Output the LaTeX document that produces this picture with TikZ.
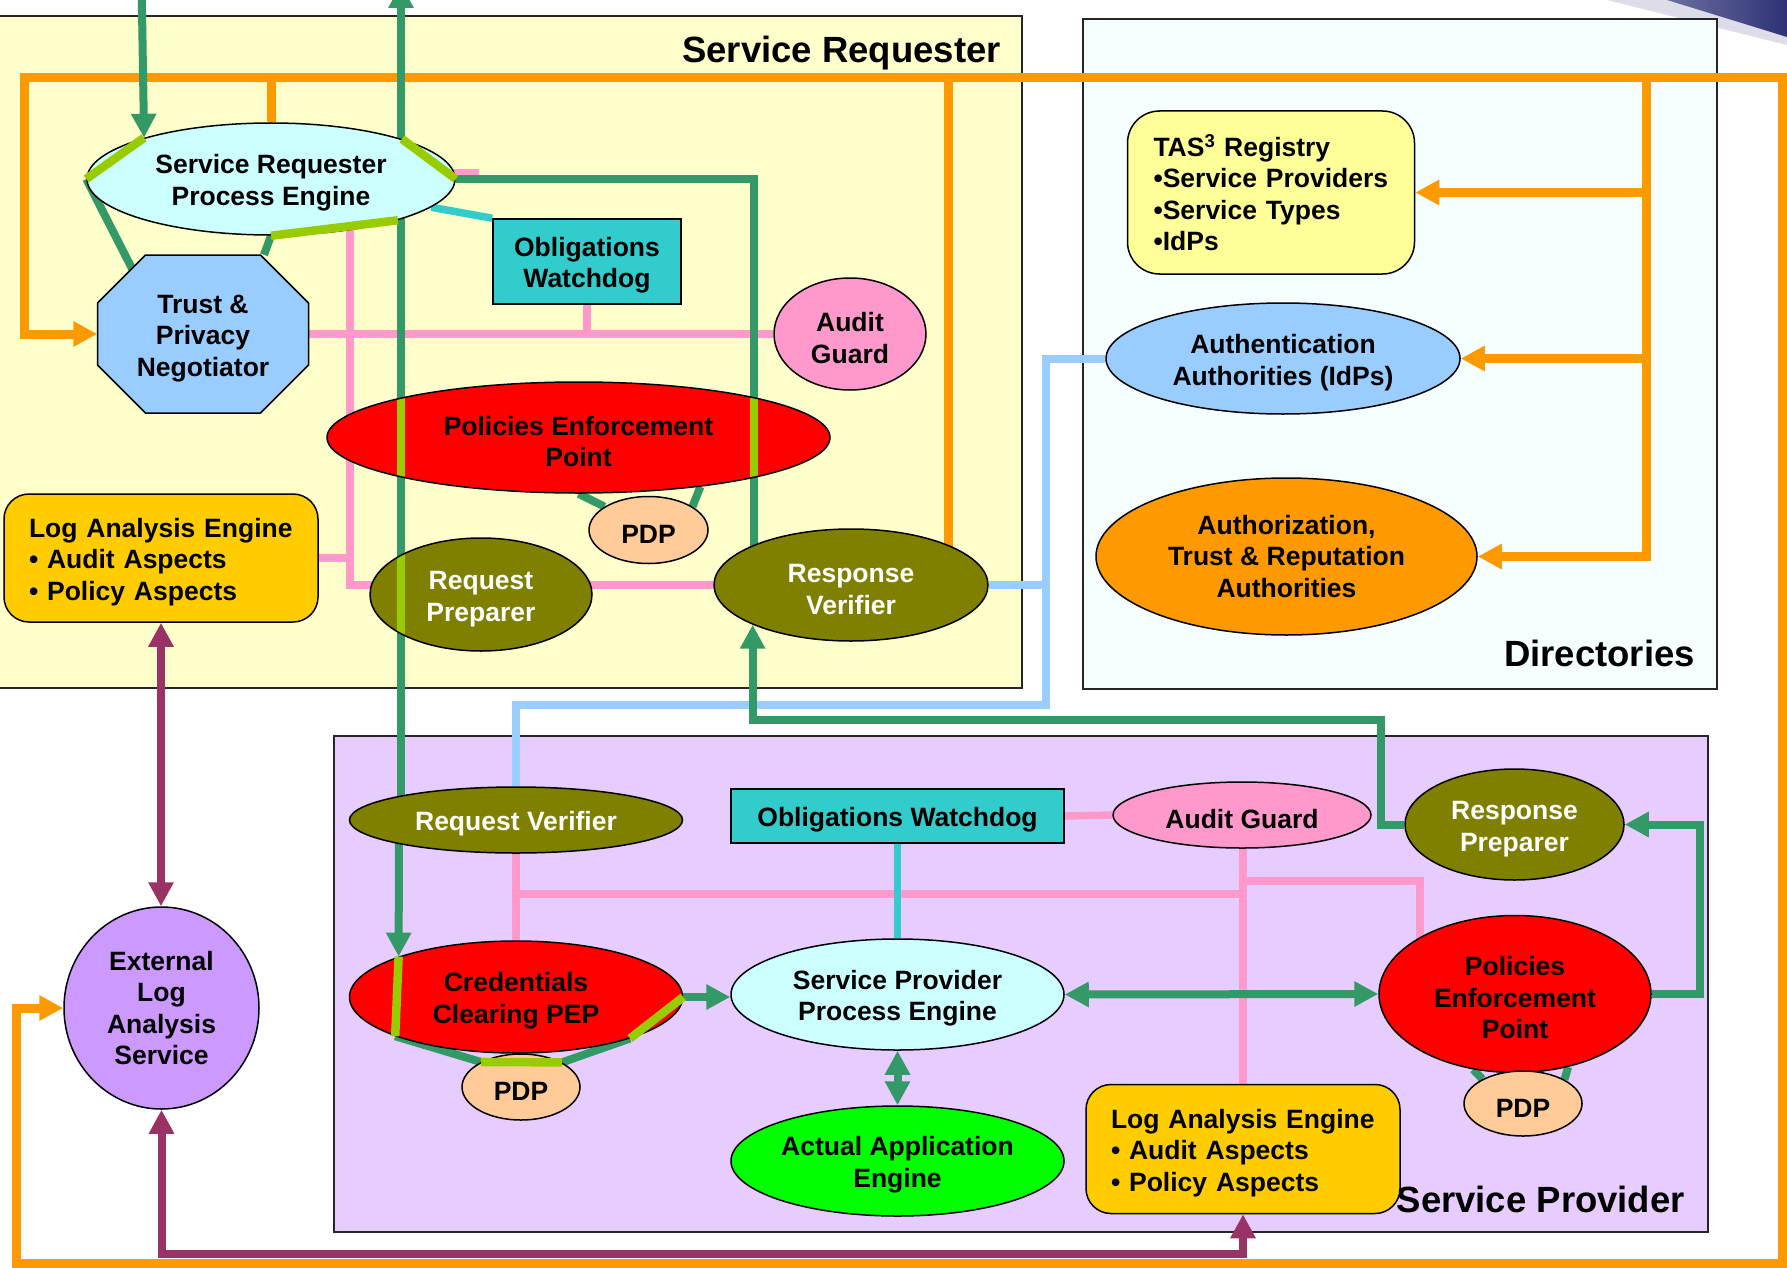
\documentclass[tikz,border=0pt]{standalone}
\usepackage{fontspec}
\setmainfont{Liberation Sans}
\usetikzlibrary{shapes.geometric,arrows.meta}

% fills
\definecolor{srYellow}{HTML}{FFFFCC}
\definecolor{dirCyan}{HTML}{F5FFFF}
\definecolor{spLilac}{HTML}{E6CCFF}
\definecolor{engCyan}{HTML}{CCFFFF}
\definecolor{octBlue}{HTML}{99CCFF}
\definecolor{obTeal}{HTML}{33CCCC}
\definecolor{auPink}{HTML}{FF99CC}
\definecolor{pepRed}{HTML}{FF0000}
\definecolor{pdpPeach}{HTML}{FFCC99}
\definecolor{oliveN}{HTML}{808000}
\definecolor{logGold}{HTML}{FFCC00}
\definecolor{regYellow}{HTML}{FFFF99}
\definecolor{authOrange}{HTML}{FF9900}
\definecolor{extPurple}{HTML}{CC99FF}
\definecolor{appGreen}{HTML}{00FF00}
% wires
\definecolor{wOrange}{HTML}{FF9900}
\definecolor{wGreen}{HTML}{339966}
\definecolor{wPink}{HTML}{FF99CC}
\definecolor{wCyan}{HTML}{33CCCC}
\definecolor{wBlue}{HTML}{99CCFF}
\definecolor{wPlum}{HTML}{993366}
\definecolor{wLime}{HTML}{99CC00}
\definecolor{swGray}{HTML}{DCDDE8}
\definecolor{swNavy}{HTML}{2E3276}

\newcommand\lblfont{\fontsize{26.5}{31.5}\selectfont\bfseries}
\newcommand\ttlfont{\fontsize{36.5}{40}\selectfont\bfseries}
% taller first line, drops the label a little
\newcommand\lift{\rule{0pt}{27pt}}

\pgfdeclarelayer{boxes}
\pgfdeclarelayer{wires}
\pgfdeclarelayer{front}
\pgfsetlayers{boxes,wires,main,front}

\begin{document}
\begin{tikzpicture}[x=1pt,y=-1pt,>={Triangle[length=24pt,width=24pt]}]
        % Define styles for shapes
        \tikzstyle{ovl} = [ellipse, draw, line width=1.5pt, inner sep=0pt, font=\lblfont, align=center]
        \tikzstyle{sq} = [rectangle, draw, line width=1.5pt, inner sep=0pt, font=\lblfont, align=center]
        \tikzstyle{rnd} = [rectangle, draw, line width=1.5pt, rounded corners=25pt, inner xsep=25pt, inner ysep=0pt, font=\lblfont, align=left]
        \tikzstyle{zone} = [draw=black!85, line width=1.8pt]
        \tikzstyle{ttl} = [font=\ttlfont, inner sep=0pt]
        \tikzstyle{oline} = [draw=wOrange, line width=9pt]
        \tikzstyle{gline} = [draw=wGreen, line width=8pt]
        \tikzstyle{pline} = [draw=wPink, line width=7.5pt]
        \tikzstyle{cline} = [draw=wCyan, line width=7.5pt]
        \tikzstyle{bline} = [draw=wBlue, line width=8pt]
        \tikzstyle{mline} = [draw=wPlum, line width=8pt]
        \tikzstyle{lline} = [draw=wLime, line width=8.5pt]

        \useasboundingbox (0,0) rectangle (1787,1268);

        % Draw areas
        \begin{pgfonlayer}{boxes}
            \fill[white] (0,0) rectangle (1787,1268);
            \fill[swGray] (1607,0) -- (1787,0) -- (1787,45) -- cycle;
            \shade[left color=swNavy!70, right color=swNavy] (1667,0) -- (1787,0) -- (1787,37) -- cycle;
            \draw[zone, fill=srYellow] (-5,16) rectangle (1022,688);
            \draw[zone, fill=dirCyan] (1083,19) rectangle (1717,689);
            \draw[zone, fill=spLilac] (334,736) rectangle (1708,1232);
            \node[ttl, anchor=base east] (srTitle) at (1001,63) {Service Requester};
            \node[ttl, anchor=base east] (dirTitle) at (1695,666) {Directories};
            \node[ttl, anchor=base east] (spTitle) at (1685,1212) {Service Provider};
        \end{pgfonlayer}

        % Draw shapes: requester side
        \node[ovl, fill=engCyan, minimum width=368pt, minimum height=112pt] (srpe) at (271,179) {\lift Service Requester\\Process Engine};
        \coordinate (tpnC) at (203,334);
        \draw[line width=1.5pt, fill=octBlue] ([shift={(-57.5,-79)}]tpnC) -- ([shift={(57.5,-79)}]tpnC)
            -- ([shift={(105.5,-31)}]tpnC) -- ([shift={(105.5,31)}]tpnC) -- ([shift={(57.5,79)}]tpnC)
            -- ([shift={(-57.5,79)}]tpnC) -- ([shift={(-105.5,31)}]tpnC) -- ([shift={(-105.5,-31)}]tpnC) -- cycle;
        \node[font=\lblfont, align=center, inner sep=0pt, minimum width=211pt, minimum height=158pt] (trust) at (tpnC) {\lift Trust \&\\Privacy\\Negotiator};
        \node[sq, fill=obTeal, minimum width=188pt, minimum height=85pt] (obR) at (587,261.5) {\lift Obligations\\Watchdog};
        \node[ovl, fill=auPink, minimum width=152pt, minimum height=112pt] (agR) at (850,334) {\lift Audit\\Guard};
        \node[ovl, fill=pepRed, minimum width=503pt, minimum height=111pt] (pepR) at (578.5,437.5) {\lift Policies Enforcement\\Point};
        \node[ovl, fill=pdpPeach, minimum width=119pt, minimum height=67pt] (pdpR) at (648.5,530) {\lift PDP};
        \node[ovl, fill=oliveN, text=white, minimum width=222pt, minimum height=113pt] (rpR) at (481,594.5) {\lift Request\\Preparer};
        \node[ovl, fill=oliveN, text=white, minimum width=274pt, minimum height=112pt] (rvR) at (851,585) {\lift Response\\Verifier};
        \node[rnd, fill=logGold, text width=264pt, minimum height=128pt] (laeR) at (161,558) {\lift Log Analysis Engine\\• Audit Aspects\\• Policy Aspects};

        % Draw shapes: directories
        \node[rnd, fill=regYellow, rounded corners=32pt, inner xsep=26pt, text width=235pt, minimum height=163pt] (reg) at (1271,192.5) {TAS\textsuperscript{3} Registry\\•Service Providers\\•Service Types\\•IdPs};
        \node[ovl, fill=octBlue, minimum width=354pt, minimum height=111pt] (authn) at (1283,358.5) {\lift Authentication\\Authorities (IdPs)};
        \node[ovl, fill=authOrange, minimum width=381pt, minimum height=157pt] (authz) at (1286.5,556.5) {Authorization,\\Trust \& Reputation\\Authorities};

        % Draw shapes: provider side
        \node[ovl, fill=oliveN, text=white, minimum width=333pt, minimum height=66pt] (rvP) at (516,820) {\lift Request Verifier};
        \node[sq, fill=obTeal, minimum width=333pt, minimum height=54pt] (obP) at (897.5,816) {\lift Obligations Watchdog};
        \node[ovl, fill=auPink, minimum width=258pt, minimum height=66pt] (agP) at (1242,815) {\lift Audit Guard};
        \node[ovl, fill=oliveN, text=white, minimum width=219pt, minimum height=111pt] (rpP) at (1514.5,824.5) {\lift Response\\Preparer};
        \node[ovl, fill=pepRed, minimum width=333pt, minimum height=112pt] (ccp) at (516,997) {\lift Credentials\\Clearing PEP};
        \node[ovl, fill=pdpPeach, minimum width=118pt, minimum height=66pt] (pdpL) at (521,1087) {\lift PDP};
        \node[ovl, fill=engCyan, minimum width=333pt, minimum height=111pt] (sppe) at (897.5,994.5) {\lift Service Provider\\Process Engine};
        \node[ovl, fill=appGreen, minimum width=333pt, minimum height=110pt] (aae) at (897.5,1161) {\lift Actual Application\\Engine};
        \node[ovl, fill=pepRed, minimum width=272pt, minimum height=157pt] (pepP) at (1515,994) {\lift Policies\\Enforcement\\Point};
        \node[ovl, fill=pdpPeach, minimum width=118pt, minimum height=65pt] (pdpP) at (1523,1103.5) {\lift PDP};
        \node[rnd, fill=logGold, text width=264pt, minimum height=129pt] (laeP) at (1243,1149) {\lift Log Analysis Engine\\• Audit Aspects\\• Policy Aspects};
        \node[ovl, fill=extPurple, minimum width=195pt, minimum height=202pt] (elas) at (161.5,1008) {External\\Log\\Analysis\\Service};

        % Draw connectors
        \begin{pgfonlayer}{wires}
            % audit (pink)
            \coordinate (pkA) at (350,585);
            \coordinate (pkB) at (1243,894);
            \coordinate (pkC) at (1420,881);
            \draw[pline] ([shift={(-10,-6)}]srpe.east) -- ([shift={(23,-6)}]srpe.east);
            \draw[pline] (trust.east) -- (agR.west);
            \draw[pline] (obR.south) -- (obR.south |- agR.west);
            \draw[pline] (pkA |- srpe.center) -- (pkA) -- (rvR.center);
            \draw[pline] (laeR.east) -- (laeR.east -| pkA);
            \draw[pline] (obP.east) -- (agP.west);
            \draw[pline] (rvP.center) -- (ccp.center);
            \draw[pline] (pkB -| rvP.center) -- (pkB);
            \draw[pline] (pkB |- agP.center) -- (pkB |- laeP.center);
            \draw[pline] (pkB |- pkC) -- (pkC) -- (pkC |- pepP.center);

            % obligations (cyan)
            \draw[cline] (srpe.350.8) -- (obR.north west);
            \draw[cline] (obP.south) -- (sppe.north);

            % authentication (light blue)
            \coordinate (lbA) at (1046,705);
            \draw[bline] (authn.west) -- (lbA |- authn.west) -- (lbA) -- (lbA -| rvP.north) -- (rvP.north);
            \draw[bline] (rvR.east) -- (rvR.east -| lbA);

            % directory lookups (orange)
            \coordinate (busL) at (24,78);
            \coordinate (busR) at (1782,78);
            \coordinate (busB) at (1782,1263);
            \coordinate (retL) at (16,1263);
            \coordinate (dirC) at (1646,78);
            \coordinate (rvC) at (948,78);
            \draw[oline,<->] (trust.west) -- (busL |- trust.west) -- (busL) -- (busR) -- (busB) -- (retL) -- (retL |- elas.west) -- (elas.west);
            \draw[oline] (srpe.north |- busL) -- (srpe.north);
            \draw[oline] (rvC) -- (rvC |- rvR.center);
            \draw[oline,->] (dirC) -- (dirC |- authz.east) -- (authz.east);
            \foreach \n in {reg, authn}
                \draw[oline,->] (dirC |- \n.east) -- (\n.east);

            % log analysis (plum)
            \coordinate (mB) at (161,1254);
            \draw[mline,<->] (laeR.south) -- (laeR.south |- elas.north);
            \draw[mline,<->] (elas.south) -- (elas.south |- mB) -- (mB -| laeP.south) -- (laeP.south);

            % message flow (green)
            \coordinate (gIn) at (141.6,-14);
            \coordinate (upcol) at (401,-16);
            \coordinate (dncol) at (399,0);
            \coordinate (gA) at (754,179);
            \coordinate (gM) at (1381,720);
            \coordinate (gR) at (1700,900);
            \draw[gline,->] (gIn) -- (srpe.162.9);
            \draw[gline] (srpe.west) -- ([shift={(-58,-40)}]trust.center);
            \draw[gline] (srpe.south) -- ([shift={(61,0)}]trust.north);
            \draw[gline] (srpe.east) -- (gA) -- (gA |- rvR.center);
            \draw[gline,->] (upcol |- rvP.center) -- (upcol);
            \draw[gline,->] (rpP.west) -- (gM |- rpP.west) -- (gM) -- (gM -| rvR.202.2) -- (rvR.202.2);
            \draw[gline] (pepR.south) -- (pdpR.152);
            \draw[gline] (pepR.338) -- (pdpR.28);
            \draw[gline,->] (dncol |- rvP.center) -- (ccp.161.2);
            \draw[gline] (ccp.198.8) -- (pdpL.148.5);
            \draw[gline] (pdpL.31.9) -- (ccp.340.8);
            \draw[gline,->] (ccp.east) -- (ccp.east -| sppe.west);
            \draw[gline,<->] (sppe.south) -- (aae.north);
            \draw[gline,<->] (sppe.east) -- (pepP.west);
            \draw[gline,->] (pepP.east) -- (gR |- pepP.east) -- (gR |- rpP.east) -- (rpP.east);
            \draw[gline] (pepP.241.9) -- (pdpP.149.3);
            \draw[gline] (pepP.306.1) -- (pdpP.30.7);
        \end{pgfonlayer}

        % Pass-through segments
        \begin{pgfonlayer}{front}
            \draw[lline] (srpe.162.9) -- (srpe.west);
            \draw[lline] (srpe.south) -- (srpe.342.9);
            \draw[lline] (srpe.17.1) -- (srpe.east);
            \begin{scope}
                \clip (pepR.center) ellipse [x radius=250pt, y radius=54.5pt];
                \draw[lline] (upcol) -- (upcol |- rvP.center) (gA) -- (gA |- rvR.center);
            \end{scope}
            \begin{scope}
                \clip (rpR.center) ellipse [x radius=110pt, y radius=55.5pt];
                \draw[lline] (upcol) -- (upcol |- rvP.center);
            \end{scope}
            \draw[lline] (ccp.161.2) -- (ccp.198.8);
            \draw[lline] (ccp.340.8) -- (ccp.east);
            \draw[lline] (pdpL.148.5) -- (pdpL.31.9);
        \end{pgfonlayer}
    \end{tikzpicture}
\end{document}
